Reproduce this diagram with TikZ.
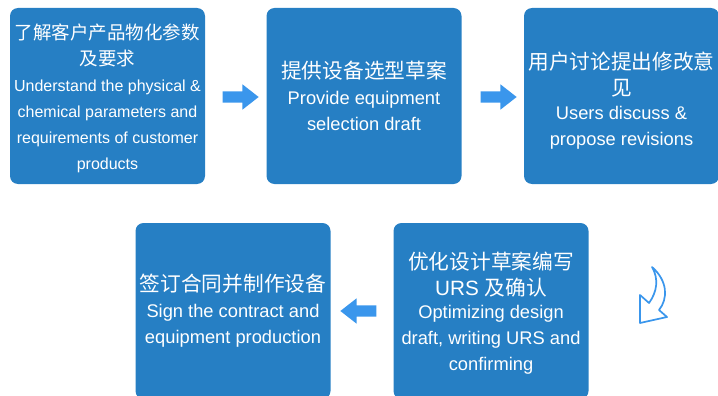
\documentclass[tikz,border=0pt]{standalone}
\usepackage{fontspec}
\setmainfont{Liberation Sans}
\newfontfamily\cjk{Noto Sans CJK SC}
\usetikzlibrary{shapes.arrows}

\definecolor{boxblue}{RGB}{38,127,196}
\definecolor{arrowblue}{RGB}{58,150,236}

\newcommand{\zh}[1]{{\cjk #1}}

\tikzset{
  stepbox/.style={fill=boxblue, rounded corners=8pt, minimum width=195pt,
    minimum height=176pt, text=white, align=center, inner sep=0pt,
    font=\fontsize{18.3}{26}\selectfont},
  smallbox/.style={stepbox, font=\fontsize{16}{26}\selectfont},
  blockarrow/.style={single arrow, fill=arrowblue, inner sep=5.5pt,
    minimum height=36pt, single arrow head extend=7pt,
    single arrow tip angle=76, single arrow head indent=0pt},
  curvearrow/.style={draw=arrowblue, line width=1.7pt, fill=white, line join=round}
}

\begin{document}
\begin{tikzpicture}[x=1pt,y=-1pt]
\clip (0,0) rectangle (718,396);

% top row
\node[smallbox] (s1) at (107.5,96) {\rule{0pt}{20pt}{\cjk\fontsize{18.5}{26}\selectfont 了解客户产品物化参数}\\
  {\cjk\fontsize{18.5}{26}\selectfont 及要求}\\
  Understand the physical \&\\ chemical parameters and\\
  requirements of customer\\ products};
\node[stepbox] (s2) at (364,96) {{\cjk\fontsize{20.7}{26}\selectfont 提供设备选型草案}\\
  Provide equipment\\ selection draft};
\node[stepbox] (s3) at (621.5,96) {\rule{0pt}{27pt}{\cjk\fontsize{20.7}{26}\selectfont 用户讨论提出修改意}\\
  {\cjk\fontsize{20.7}{26}\selectfont 见}\\[-2pt]
  Users discuss \&\\ propose revisions};

% bottom row
\node[stepbox] (s4) at (491,311) {\rule{0pt}{22pt}{\cjk\fontsize{20.7}{26}\selectfont 优化设计草案编写}\\
  {\fontsize{20.7}{26}\selectfont URS \zh{及确认}}\\[-3pt]
  Optimizing design\\ draft, writing URS and\\ confirming};
\node[stepbox] (s5) at (233,311) {{\cjk\fontsize{20.7}{26}\selectfont 签订合同并制作设备}\\
  Sign the contract and\\ equipment production};

% arrows
\node[blockarrow] (a12) at (237,97) {};
\node[blockarrow] (a23) at (495,97) {};
\node[blockarrow, shape border rotate=180] (a45) at (362,311) {};

% turn arrow
\draw[curvearrow] (652,267) .. controls (668,281) and (668,299) .. (659,310)
  -- (667,317) -- (640,323) -- (640,295) -- (649,303)
  .. controls (657,292) and (659,279) .. cycle;
\end{tikzpicture}
\end{document}
